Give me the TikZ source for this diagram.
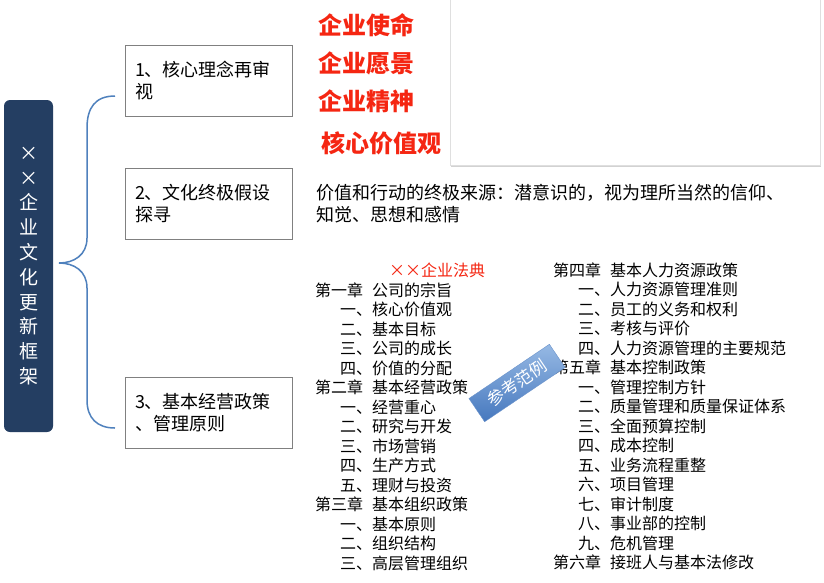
\documentclass[tikz,border=0pt]{standalone}
\usepackage{fontspec}
\setmainfont{Noto Sans CJK SC}
\usetikzlibrary{shadows}

\definecolor{framenavy}{RGB}{36,62,98}
\definecolor{bracecol}{RGB}{79,129,189}
\definecolor{mottored}{RGB}{245,38,18}
\definecolor{boxline}{RGB}{128,128,128}
\definecolor{stamptop}{RGB}{150,185,228}
\definecolor{stampbot}{RGB}{70,120,190}

\tikzset{
	stepbox/.style={draw=boxline, line width=.8pt, minimum width=167pt, minimum height=71pt,
		text width=147pt, inner xsep=10pt, align=left, font=\fontsize{18}{22}\selectfont},
	motto/.style={anchor=west, inner sep=0pt, text=mottored, font=\fontsize{24}{28}\selectfont\bfseries},
	lawitem/.style={anchor=west, inner sep=0pt, font=\fontsize{16}{19}\selectfont},
}
\newcommand{\chapgap}{\hspace{9pt}}
\newcommand{\subgap}{\hspace{25pt}}

\begin{document}
\begin{tikzpicture}[x=1pt,y=-1pt]

	\useasboundingbox[fill=white] (0,0) rectangle (824,582);

	% empty picture frame top right
	\node[draw=gray!25, fill=white, drop shadow={shadow xshift=1pt, shadow yshift=-2pt, opacity=.35},
		minimum width=370pt, minimum height=168pt] (photo) at (635,81) {};

	% title bar and brace
	\node[fill=framenavy, rounded corners=6pt, minimum width=49pt, minimum height=332pt, text=white,
		align=center, font=\fontsize{19}{24.8}\selectfont] (frame) at (28.5,266)
		{×\\×\\企\\业\\文\\化\\更\\新\\框\\架};

	\draw[bracecol, line width=1.5pt] (115,96) .. controls (95,96) and (87,108) .. (87,128) -- (87,238)
		.. controls (87,255) and (74,263) .. (59,263) .. controls (74,263) and (87,271) .. (87,288)
		-- (87,400) .. controls (87,418) and (97,428) .. (115,428);

	% three steps
	\node[stepbox] (core) at (208.5,80.5) {1、核心理念再审\\视};
	\node[stepbox] (myth) at (208.5,203.5) {2、文化终极假设\\探寻};
	\node[stepbox] (policy) at (208.5,412.5) {3、基本经营政策\\、管理原则};

	\node[motto] (mission) at (318,25) {企业使命};
	\node[motto] (vision) at (318,63) {企业愿景};
	\node[motto] (spirit) at (318,101) {企业精神};
	\node[motto] (values) at (321,143) {核心价值观};

	\node[anchor=west, inner sep=0pt, align=left, font=\fontsize{18}{22}\selectfont] (source) at (316,204)
		{价值和行动的终极来源：潜意识的，视为理所当然的信仰、\\知觉、思想和感情};

	% law book
	\node[lawitem, anchor=center, text=mottored] (lawtitle) at (437,270) {××企业法典};

	\foreach \txt [count=\i from 0] in {第一章\chapgap 公司的宗旨, \subgap 一、核心价值观, \subgap 二、基本目标,
		\subgap 三、公司的成长, \subgap 四、价值的分配, 第二章\chapgap 基本经营政策, \subgap 一、经营重心,
		\subgap 二、研究与开发, \subgap 三、市场营销, \subgap 四、生产方式, \subgap 五、理财与投资,
		第三章\chapgap 基本组织政策, \subgap 一、基本原则, \subgap 二、组织结构, \subgap 三、高层管理组织}
		\node[lawitem] (left\i) at (315,290+19.5*\i) {\txt};

	\foreach \txt [count=\i from 0] in {第四章\chapgap 基本人力资源政策, \subgap 一、人力资源管理准则,
		\subgap 二、员工的义务和权利, \subgap 三、考核与评价, \subgap 四、人力资源管理的主要规范,
		第五章\chapgap 基本控制政策, \subgap 一、管理控制方针, \subgap 二、质量管理和质量保证体系,
		\subgap 三、全面预算控制, \subgap 四、成本控制, \subgap 五、业务流程重整, \subgap 六、项目管理,
		\subgap 七、审计制度, \subgap 八、事业部的控制, \subgap 九、危机管理, 第六章\chapgap 接班人与基本法修改}
		\node[lawitem] (right\i) at (553,270+19.5*\i) {\txt};

	% stamp
	\node[rotate=34, minimum width=97pt, minimum height=28pt, top color=stamptop, bottom color=stampbot,
		draw=stampbot!80, text=white, font=\fontsize{17}{20}\selectfont] (stamp) at (517,383) {参考范例};

\end{tikzpicture}
\end{document}
